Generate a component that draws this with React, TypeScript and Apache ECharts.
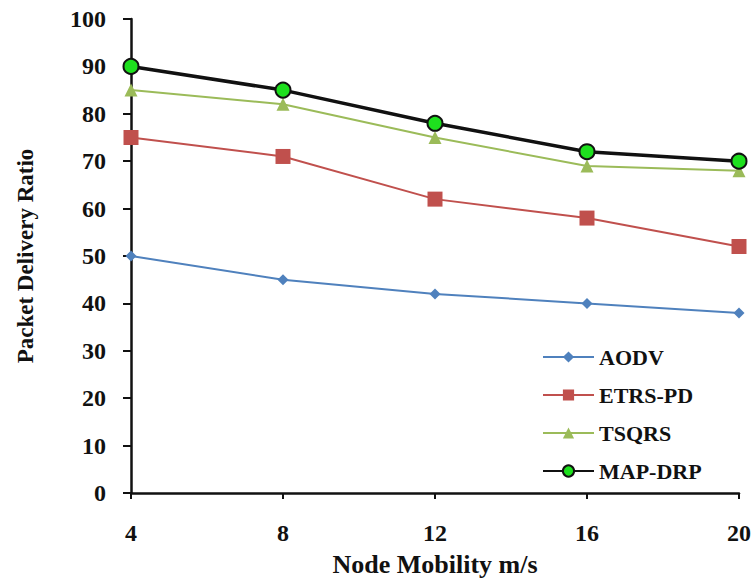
import React, { useEffect, useRef } from "react";
import * as echarts from "echarts";

const categories = ["4", "8", "12", "16", "20"];
const aodv = [50, 45, 42, 40, 38];
const etrs = [75, 71, 62, 58, 52];
const tsqrs = [85, 82, 75, 69, 68];
const mapdrp = [90, 85, 78, 72, 70];

const FONT = "'Liberation Serif', 'Times New Roman', serif";

export default function App() {
  const ref = useRef<HTMLDivElement>(null);
  useEffect(() => {
    document.body.style.margin = "0";
    const chart = echarts.init(ref.current!, null, { renderer: "svg" });
    chart.setOption({
      animation: false,
      backgroundColor: "#ffffff",
      grid: { left: 131, right: 14, top: 19, bottom: 85 },
      legend: {
        orient: "vertical",
        left: 537,
        top: 341,
        itemWidth: 51,
        itemHeight: 14,
        itemGap: 16,
        textStyle: { fontFamily: FONT, fontWeight: "bold", fontSize: 22, color: "#111" },
        data: ["AODV", "ETRS-PD", "TSQRS", "MAP-DRP"],
      },
      xAxis: {
        type: "category",
        data: categories,
        boundaryGap: false,
        name: "Node Mobility m/s",
        nameLocation: "middle",
        nameGap: 58,
        nameTextStyle: { fontFamily: FONT, fontWeight: "bold", fontSize: 26, color: "#111" },
        axisLine: { lineStyle: { color: "#111", width: 2.5 } },
        axisTick: { alignWithLabel: true, length: 6, lineStyle: { color: "#111", width: 2 } },
        axisLabel: { fontFamily: FONT, fontWeight: "bold", fontSize: 24, color: "#111", margin: 28 },
        splitLine: { show: false },
      },
      yAxis: {
        type: "value",
        min: 0,
        max: 100,
        interval: 10,
        name: "Packet Delivery Ratio",
        nameLocation: "middle",
        nameGap: 94,
        nameTextStyle: { fontFamily: FONT, fontWeight: "bold", fontSize: 23, color: "#111" },
        axisLine: { show: true, lineStyle: { color: "#111", width: 2.5 } },
        axisTick: { show: true, length: 8, lineStyle: { color: "#111", width: 2 } },
        axisLabel: { fontFamily: FONT, fontWeight: "bold", fontSize: 24, color: "#111", margin: 25 },
        splitLine: { show: false },
      },
      series: [
        {
          name: "AODV",
          type: "line",
          data: aodv,
          symbol: "diamond",
          symbolSize: 11,
          itemStyle: { color: "#4F81BD" },
          lineStyle: { color: "#4F81BD", width: 2 },
        },
        {
          name: "ETRS-PD",
          type: "line",
          data: etrs,
          symbol: "rect",
          symbolSize: 15,
          itemStyle: { color: "#C0504D" },
          lineStyle: { color: "#C0504D", width: 2 },
        },
        {
          name: "TSQRS",
          type: "line",
          data: tsqrs,
          symbol: "triangle",
          symbolSize: 13,
          itemStyle: { color: "#9BBB59" },
          lineStyle: { color: "#9BBB59", width: 2 },
        },
        {
          name: "MAP-DRP",
          type: "line",
          data: mapdrp,
          symbol: "circle",
          symbolSize: 15,
          itemStyle: { color: "#1EE01E", borderColor: "#111", borderWidth: 2 },
          lineStyle: { color: "#111", width: 3.5 },
        },
      ],
    });
    return () => chart.dispose();
  }, []);
  return <div ref={ref} style={{ width: 754, height: 582 }} />;
}
